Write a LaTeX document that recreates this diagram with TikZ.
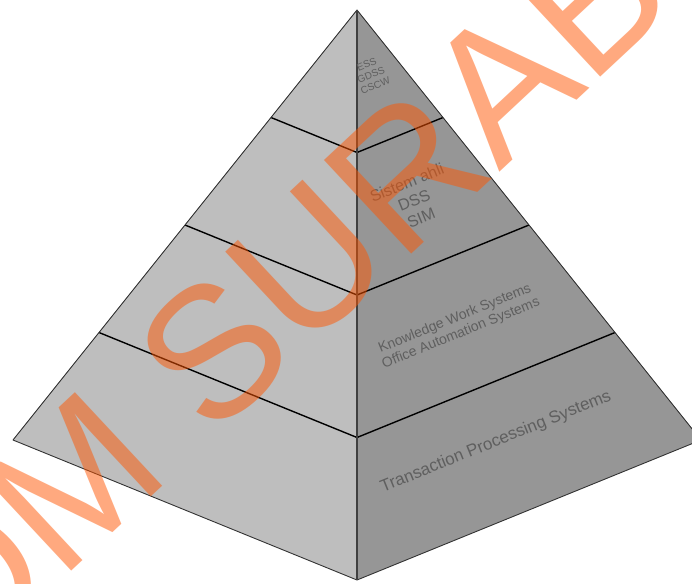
\documentclass[tikz,border=0pt]{standalone}
\usepackage{fontspec}
\setmainfont{Liberation Sans}
\usetikzlibrary{calc}
\definecolor{leftface}{RGB}{190,190,190}
\definecolor{rightface}{RGB}{150,150,150}
\definecolor{labelgray}{RGB}{95,95,95}
\definecolor{wmorange}{RGB}{255,85,0}
\begin{document}
\begin{tikzpicture}[x=1pt,y=-1pt,
  outline/.style={draw=black!80, line width=0.9pt, line join=round},
  tier/.style={draw=black, line width=1.4pt},
  ridge/.style={draw=black!75, line width=1.8pt},
  facelabel/.style={text=labelgray, rotate=22, align=center, inner sep=0pt},
  watermark/.style={text=wmorange, text opacity=0.5, rotate=43, inner sep=0pt, anchor=base west,
    font=\fontsize{186}{186}\selectfont}]
\useasboundingbox (0,0) rectangle (692,583);
\clip (0,0) rectangle (692,583);
\fill[white] (0,0) rectangle (692,583);
\coordinate (A) at (357,10);
\coordinate (L) at (13,440);
\coordinate (B) at (357,580);
\coordinate (R) at (701,440);
\fill[leftface] (A) -- (L) -- (B) -- cycle;
\fill[rightface] (A) -- (B) -- (R) -- cycle;
\foreach \f/\n in {0.25/1,0.5/2,0.75/3}{
  \coordinate (L\n) at ($(A)!\f!(L)$);
  \coordinate (C\n) at ($(A)!\f!(B)$);
  \coordinate (R\n) at ($(A)!\f!(R)$);
  \draw[tier] (L\n) -- (C\n) -- (R\n);
}
\draw[outline] (A) -- (L) -- (B) -- (R) -- cycle;
\draw[ridge] (A) -- (B);
\node[facelabel, font=\fontsize{10}{11.5}\selectfont] (top) at (371,75) {ESS\\GDSS\\CSCW};
\node[facelabel, font=\fontsize{16}{19}\selectfont] (mid) at (414,200) {Sistem ahli\\DSS\\SIM};
\node[facelabel, font=\fontsize{14}{16}\selectfont] (kws) at (458,326) {Knowledge Work Systems\\Office Automation Systems};
\node[facelabel, font=\fontsize{17}{20}\selectfont] (tps) at (496,442) {Transaction Processing Systems};
\node[watermark] (wm) at (-45,680) {OM SURAB};
\end{tikzpicture}
\end{document}
